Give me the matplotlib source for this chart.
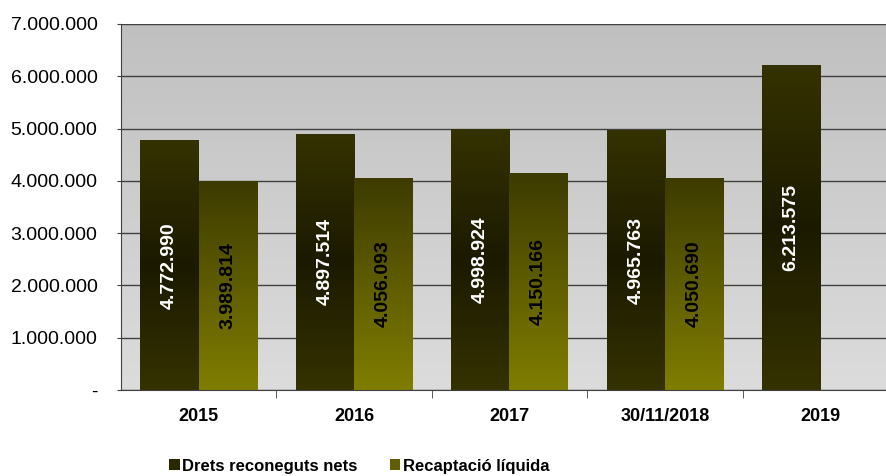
import numpy as np
import matplotlib
matplotlib.use("Agg")
import matplotlib.pyplot as plt
from matplotlib.colors import LinearSegmentedColormap
from matplotlib.patches import Patch

plt.rcParams['font.family'] = ['Liberation Sans', 'DejaVu Sans']

categories = ["2015", "2016", "2017", "30/11/2018", "2019"]
drets = [4772990, 4897514, 4998924, 4965763, 6213575]
recaptacio = [3989814, 4056093, 4150166, 4050690, None]
series_names = ["Drets reconeguts nets", "Recaptació líquida"]


def fmt(v):
    return f"{int(v):,}".replace(",", ".")


def main():
    fig = plt.figure(figsize=(8.87, 4.76), dpi=100)
    ax = fig.add_axes([121 / 887, 1 - 390 / 476, 1 - 121 / 887, (390 - 24) / 476])

    # background gradient
    bg = LinearSegmentedColormap.from_list("bg", ["#dcdcdc", "#c0c0c0"])
    ax.imshow(np.linspace(0, 1, 256).reshape(-1, 1), cmap=bg, origin="lower",
              extent=[0, 1, 0, 1], transform=ax.transAxes, aspect="auto", zorder=0)

    cmap1 = LinearSegmentedColormap.from_list("s1", ["#353200", "#1b1a00", "#353200"])
    cmap2 = LinearSegmentedColormap.from_list("s2", ["#807e00", "#3d3b00"])
    width = 0.375
    x = np.arange(len(categories))

    for vals, off, cmap, tcol in [(drets, -0.1875, cmap1, "white"),
                                  (recaptacio, 0.1875, cmap2, "black")]:
        for xi, v in zip(x, vals):
            if v is None:
                continue
            bar = ax.bar(xi + off, v, width, color="none", zorder=2)[0]
            im = ax.imshow(np.linspace(0, 1, 256).reshape(-1, 1), cmap=cmap, origin="lower",
                           extent=[xi + off - width / 2, xi + off + width / 2, 0, v],
                           aspect="auto", zorder=2)
            im.set_clip_path(bar)
            ax.text(xi + off, v / 2, fmt(v), rotation=90, ha="center", va="center",
                    color=tcol, fontsize=14, fontweight="bold", zorder=3)

    ax.set_xlim(-0.5, -0.5 + 766 / 155.4)
    ax.set_ylim(0, 7000000)
    ax.set_yticks(np.arange(0, 7000001, 1000000))
    ax.set_yticklabels(["-"] + [fmt(v) for v in range(1000000, 7000001, 1000000)], fontsize=14)
    ax.yaxis.grid(True, color="#404040", linewidth=1.0, zorder=1)
    ax.set_axisbelow(True)

    ax.set_xticks(x)
    ax.set_xticklabels(categories, fontsize=13, fontweight="bold")
    ax.tick_params(axis="x", length=0, pad=13)
    ax.set_xticks(np.arange(0.5, 4.5, 1), minor=True)
    ax.tick_params(axis="x", which="minor", length=6, color="#404040")
    ax.tick_params(axis="y", length=3, color="#404040", pad=14)

    for s in ["top", "right"]:
        ax.spines[s].set_visible(False)
    ax.spines["left"].set_color("#404040")
    ax.spines["bottom"].set_color("#404040")

    handles = [Patch(facecolor="#2a2800"), Patch(facecolor="#605e00")]
    fig.legend(handles, series_names, loc="center", bbox_to_anchor=(0.405, 1 - 466 / 476),
               ncol=2, frameon=False, prop={"weight": "bold", "size": 12},
               handlelength=0.65, handleheight=0.65, handletextpad=0.15, columnspacing=1.9,
               borderpad=0)

    fig.savefig("out.png", dpi=100)


if __name__ == "__main__":
    main()
